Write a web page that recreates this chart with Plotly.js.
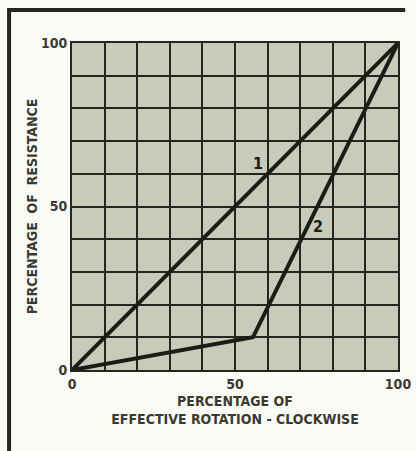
<!DOCTYPE html>
<html>
<head>
<meta charset="utf-8">
<script src="https://cdn.plot.ly/plotly-3.0.1.min.js"></script>
<style>
html,body{margin:0;padding:0;background:#fbfbf6;}
#chart{width:416px;height:451px;}
</style>
</head>
<body>
<div id="chart"></div>
<script>
// Curve 1: linear taper
const curve1X = [0, 100];
const curve1Y = [0, 100];
// Curve 2: tapered (knee near 55%)
const curve2X = [0, 55.5, 100];
const curve2Y = [0, 10, 100];
// Curve labels
const labelText = ['1', '2'];
const labelX = [57, 75.5];
const labelY = [63, 44];
// Ticks
const tickVals = [0, 10, 20, 30, 40, 50, 60, 70, 80, 90, 100];
const tickText = ['0', '', '', '', '', '50', '', '', '', '', '100'];

const ink = '#1c1c16';
const txt = '#3a3a30';
const fnt = {family: 'DejaVu Sans Condensed, DejaVu Sans, sans-serif', size: 14, color: txt, weight: 'bold'};

const traces = [
  {x: curve1X, y: curve1Y, mode: 'lines', line: {color: ink, width: 4}, hoverinfo: 'skip', showlegend: false},
  {x: curve2X, y: curve2Y, mode: 'lines', line: {color: ink, width: 4}, hoverinfo: 'skip', showlegend: false}
];

const annotations = labelText.map((t, i) => ({
  x: labelX[i], y: labelY[i], text: t, showarrow: false,
  font: {family: fnt.family, size: 16, color: ink, weight: 'bold'}
}));

const axisCommon = {
  range: [0, 100], tickvals: tickVals, ticktext: tickText,
  showgrid: true, gridcolor: '#262620', gridwidth: 2,
  zeroline: false, showline: true, linecolor: '#262620', linewidth: 2, mirror: true,
  ticks: '', tickfont: fnt, fixedrange: true
};

const layout = {
  width: 416, height: 451,
  margin: {l: 72, r: 18, t: 43, b: 81},
  paper_bgcolor: '#fbfbf6',
  plot_bgcolor: '#c8cbb9',
  showlegend: false,
  xaxis: Object.assign({}, axisCommon, {
    title: {text: 'PERCENTAGE OF<br>EFFECTIVE ROTATION - CLOCKWISE', font: {family: fnt.family, size: 14, color: txt, weight: 'bold'}, standoff: 5}
  }),
  yaxis: Object.assign({}, axisCommon, {
    title: {text: 'PERCENTAGE  OF  RESISTANCE', font: {family: fnt.family, size: 14, color: txt, weight: 'bold'}, standoff: 0}
  }),
  annotations: annotations,
  shapes: [
    {type: 'line', xref: 'paper', yref: 'paper', x0: -0.193, x1: 1.022, y0: 1.101, y1: 1.101, line: {color: '#262620', width: 4}},
    {type: 'line', xref: 'paper', yref: 'paper', x0: -0.193, x1: -0.193, y0: 1.107, y1: -0.3, line: {color: '#262620', width: 4}}
  ]
};

Plotly.newPlot('chart', traces, layout, {staticPlot: true, displayModeBar: false});
</script>
</body>
</html>
